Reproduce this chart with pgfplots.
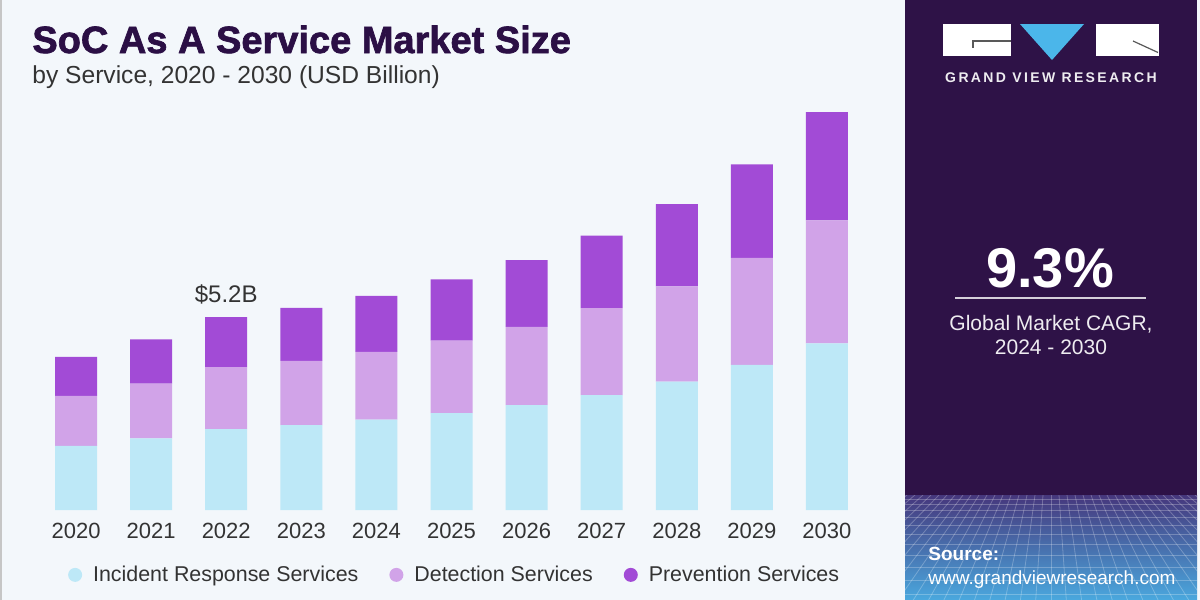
\documentclass[border=0pt]{standalone}
\usepackage{fontspec}
\setmainfont{Liberation Sans}
\newfontfamily\heavyfont{Liberation Sans Bold}[FakeBold=1.8]
\usepackage{pgfplots}
\pgfplotsset{compat=1.18}
\usepackage{pgfplotstable}

\definecolor{incident}{HTML}{BDE8F7}
\definecolor{detection}{HTML}{D1A3E8}
\definecolor{prevention}{HTML}{A24BD6}
\definecolor{pagebg}{HTML}{F3F7FB}
\definecolor{panel}{HTML}{2E1247}
\definecolor{titlecol}{HTML}{2B0F45}
\definecolor{textdark}{HTML}{333333}
\definecolor{logoblue}{HTML}{4BB6EA}
\definecolor{floortop}{HTML}{46377C}
\definecolor{floormid}{HTML}{3F62A8}
\definecolor{floorbot}{HTML}{4AA8DE}

% market size by service, USD billion
\pgfplotstableread{
idx inc  det  prev
0   1.73 1.35 1.05
1   1.93 1.48 1.19
2   2.18 1.67 1.35
3   2.29 1.73 1.43
4   2.44 1.82 1.51
5   2.61 1.96 1.65
6   2.83 2.11 1.80
7   3.10 2.34 1.96
8   3.46 2.57 2.22
9   3.91 2.89 2.52
10  4.49 3.32 2.92
}\market

\begin{document}
\begin{tikzpicture}
% background, side panel and headings (1 unit = 0.5pt, y downward)
\begin{scope}[x=0.5pt,y=-0.5pt]
  \fill[pagebg] (0,0) rectangle (1200,600);
  \draw[gray!45, line width=1pt] (0.5,0) -- (0.5,600);
  \fill[panel] (905,0) rectangle (1197,600);
  % perspective floor grid
  \shade[top color=floortop, middle color=floormid, bottom color=floorbot] (905,495) rectangle (1197,600);
  \begin{scope}
    \clip (905,495) rectangle (1197,600);
    \foreach \yy in {499,504,510,517,525,534,544,555,567,580,594}
      \draw[white, opacity=0.25, line width=0.4pt] (905,\yy) -- (1197,\yy);
    \foreach \k in {-25,...,25}
      \draw[white, opacity=0.25, line width=0.4pt] (1051+\k*8,495) -- (1051+\k*15.3,600);
  \end{scope}
  % logo
  \fill[white] (943,24) rectangle (1011,56);
  \draw[gray!70!black, line width=0.6pt] (1011,41) -- (973,41) -- (973,47.5);
  \fill[logoblue] (1020,24) -- (1084,24) -- (1052,60) -- cycle;
  \fill[white] (1096,24) rectangle (1159,56);
  \draw[gray!70!black, line width=0.6pt] (1133,41) -- (1158,52.5);
  \node[anchor=base, inner sep=0, text=white!92!panel,
        font=\bfseries\fontsize{7pt}{7pt}\selectfont\addfontfeatures{LetterSpace=17}]
        at (1051,82.7) {GRAND VIEW RESEARCH};
  % CAGR block
  \node[anchor=base, inner sep=0, text=white, font=\bfseries\fontsize{28pt}{28pt}\selectfont]
        at (1050,287) {9.3\%};
  \draw[white!80!panel, line width=1pt] (955,298) -- (1146,298);
  \node[anchor=base, inner sep=0, text=white!92!panel, font=\fontsize{10.5pt}{10.5pt}\selectfont]
        at (1051,330.5) {Global Market CAGR,};
  \node[anchor=base, inner sep=0, text=white!92!panel, font=\fontsize{10.5pt}{10.5pt}\selectfont]
        at (1051,354.5) {2024 - 2030};
  % source
  \node[anchor=base west, inner sep=0, text=white, font=\bfseries\fontsize{9.5pt}{9.5pt}\selectfont]
        at (928,560) {Source:};
  \node[anchor=base west, inner sep=0, text=white, font=\fontsize{9.5pt}{9.5pt}\selectfont]
        at (928,584) {www.grandviewresearch.com};
  % headings
  \node[anchor=base west, inner sep=0, text=titlecol, font=\heavyfont\fontsize{19pt}{19pt}\selectfont]
        at (32,53) {SoC As A Service Market Size};
  \node[anchor=base west, inner sep=0, text=textdark, font=\fontsize{12.3pt}{12.3pt}\selectfont]
        at (32,83) {by Service, 2020 - 2030 (USD Billion)};
\end{scope}

\begin{axis}[
  at={(19.25pt,-255pt)}, anchor=south west,
  scale only axis, width=413pt, height=204pt,
  xmin=-0.5, xmax=10.5, ymin=0, ymax=11,
  ybar stacked, bar width=21pt,
  axis line style={draw=none},
  major tick length=0pt,
  ytick=\empty,
  xtick={0,...,10},
  xticklabels={2020,2021,2022,2023,2024,2025,2026,2027,2028,2029,2030},
  xticklabel style={font=\fontsize{11pt}{11pt}\selectfont, text=textdark, anchor=base, yshift=-14.3pt},
  legend style={at={(0.505,-0.159)}, anchor=center, legend columns=3, draw=none, fill=none,
                font=\fontsize{10.7pt}{10.7pt}\selectfont, text=textdark,
                /tikz/every even column/.append style={column sep=13.5pt}},
  legend cell align=left,
  every axis plot post/.append style={
    legend image code/.code={\fill[##1] (3.5pt,0pt) circle (3.5pt); \path (10.5pt,0pt);}},
  clip=false,
]
  \addplot[fill=incident, draw=none] table[x=idx, y=inc] {\market};
  \addlegendentry{Incident Response Services}
  \addplot[fill=detection, draw=none] table[x=idx, y=det] {\market};
  \addlegendentry{Detection Services}
  \addplot[fill=prevention, draw=none] table[x=idx, y=prev] {\market};
  \addlegendentry{Prevention Services}
  \node[anchor=base, inner sep=0, text=textdark, font=\fontsize{12pt}{12pt}\selectfont]
        at (axis cs:2,5.2) [yshift=7.5pt] {\$5.2B};
\end{axis}

\pgfresetboundingbox
\useasboundingbox (0,0) rectangle (600pt,-300pt);
\end{tikzpicture}
\end{document}
